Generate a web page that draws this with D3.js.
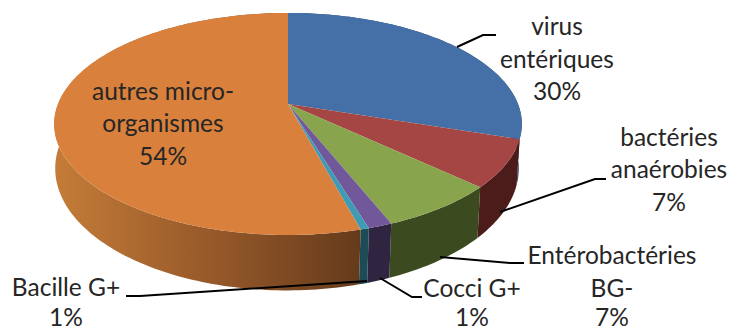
<!DOCTYPE html>
<html><head><meta charset="utf-8">
<script src="https://cdn.jsdelivr.net/npm/d3@7/dist/d3.min.js"></script>
<style>html,body{margin:0;padding:0;background:#fff}svg{display:block}</style>
</head><body><svg id="c" width="731" height="331"></svg>
<script>
const categories = ["virus entériques","bactéries anaérobies","Entérobactéries BG-","Cocci G+","Bacille G+","autres micro-organismes"];
const values = [30,6.9,7,1.4,0.5,54.2];
const topColors = ["#4570A7","#A64644","#88A44C","#71589A","#3E9BB3","#D9803C"];
const sideColors = ["#2b4468","#4B1C19","#3C4A20","#2F2540","#1D4C57","url(#og)"];
const labelLines = [["virus","entériques","30%"],["bactéries","anaérobies","7%"],["Entérobactéries","BG-","7%"],["Cocci G+","1%"],["Bacille G+","1%"],["autres micro-","organismes","54%"]];
const labelX = [557,669,612,472,66,163];
const labelY = [[35,68,100],[146,178,211],[264,297,326],[297,326],[296,326],[100,132,165]];
const leaders = [
 [[457,47],[483,35],[496,35]],
 [[500,212],[595,179],[606,179]],
 [[440,257],[510,263],[524,263]],
 [[380,278],[412,297],[422,297]],
 [[367,281],[140,296],[126,296]]
];
const svg = d3.select("#c");
const k = 0.18;
function proj(disc){return t=>{const u=Math.sin(t),v=-Math.cos(t),d=1-k*v;
  return [disc.cx+disc.A*u/d, disc.cy+disc.B*v/d];};}
const topDisc = proj({cx:288,cy:104,A:230,B:107.4});
const botDisc = proj({cx:287,cy:146.5,A:228,B:118});
const apex = [288,104];
const arcs = d3.pie().sort(null).value(d=>d)(values);
const samples = (a,b)=>{const n=Math.max(2,Math.ceil((b-a)/0.02));return d3.range(n+1).map(i=>a+(b-a)*i/n);};
const line = d3.line();
const defs = svg.append("defs");
const og = defs.append("linearGradient").attr("id","og").attr("gradientUnits","userSpaceOnUse")
  .attr("x1",55).attr("x2",365).attr("y1",0).attr("y2",0);
og.append("stop").attr("offset",0).attr("stop-color","#C47C38");
og.append("stop").attr("offset",0.5).attr("stop-color","#97592A");
og.append("stop").attr("offset",1).attr("stop-color","#633A1B");
svg.append("g").selectAll("path").data(arcs).join("path")
  .attr("fill",(d,i)=>sideColors[i])
  .attr("d",d=>{const s=samples(d.startAngle,d.endAngle);
    return line(s.map(topDisc).concat(s.slice().reverse().map(botDisc)))+"Z";});
svg.append("g").selectAll("path").data(arcs).join("path")
  .attr("fill",(d,i)=>topColors[i])
  .attr("d",d=>{const s=samples(d.startAngle,d.endAngle);
    return line([apex].concat(s.map(topDisc)))+"Z";});
svg.append("g").selectAll("path").data(leaders).join("path")
  .attr("fill","none").attr("stroke","#000").attr("stroke-width",2)
  .attr("d",d=>line(d));
const lg = svg.append("g").attr("font-family","Lato, 'Open Sans', sans-serif").attr("font-size",24.5).attr("fill","#262626").attr("text-anchor","middle");
labelLines.forEach((ls,i)=>ls.forEach((s,j)=>{
  lg.append("text").attr("x",labelX[i]).attr("y",labelY[i][j]).text(s);
}));
</script></body></html>
